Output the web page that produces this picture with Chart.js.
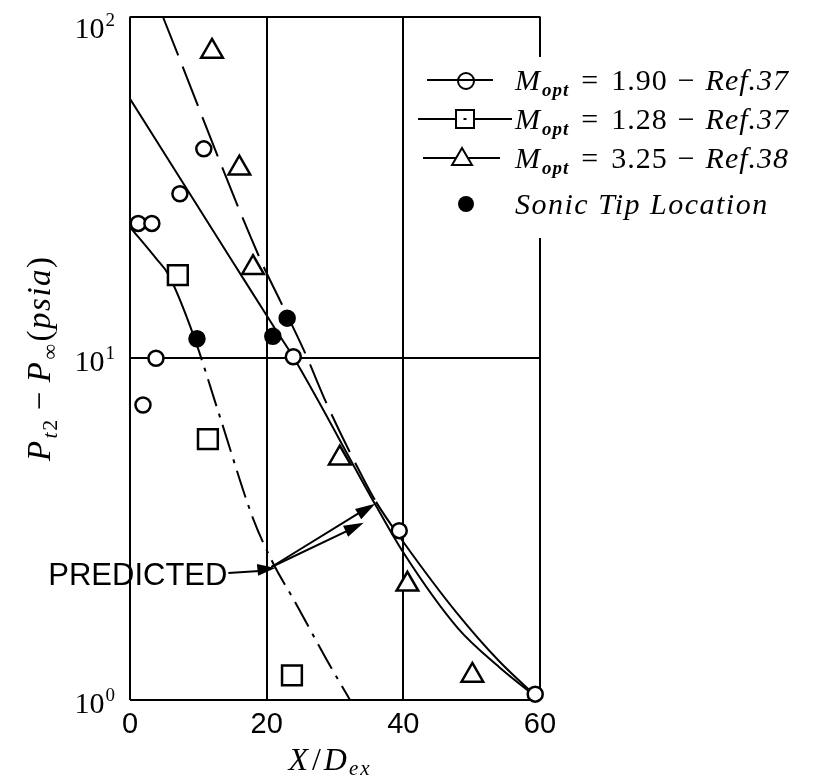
<!DOCTYPE html>
<html>
<head>
<meta charset="utf-8">
<script src="https://cdn.jsdelivr.net/npm/chart.js@4"></script>
<style>
  body { margin: 0; background: #fff; }
  canvas { display: block; }
</style>
</head>
<body>
<canvas id="chart" width="815" height="776"></canvas>
<script>
const xTicks = [0, 20, 40, 60];
const yTicks = [1, 10, 100];

// open circles, M_opt = 1.90 (Ref.37)
const circleX = [1.2, 3.2, 3.8, 1.9, 7.3, 10.8, 23.9, 39.4, 59.3];
const circleY = [24.8, 24.8, 10, 7.3, 30.3, 41, 10.1, 3.13, 1.04];
// squares, M_opt = 1.28 (Ref.37)
const squareX = [7.0, 11.4, 23.7];
const squareY = [17.5, 5.8, 1.18];
// triangles, M_opt = 3.25 (Ref.38)
const triX = [12.0, 16.0, 18.0, 30.7, 40.6, 50.1];
const triY = [79, 36, 18.4, 5.1, 2.18, 1.18];
// sonic tip location
const sonicX = [9.8, 20.9, 23.0];
const sonicY = [11.4, 11.6, 13.1];

// predicted curves
const solidX = [0, 15, 21, 24, 36, 40, 48, 54, 60];
const solidY = [57.4, 19.2, 12.4, 10.0, 3.7, 2.7, 1.62, 1.25, 1.0];
const dashX = [4.8, 19, 22, 25.4, 29, 34, 36, 40, 48, 54, 60];
const dashY = [100, 19.6, 14.7, 10.6, 7.2, 4.5, 3.8, 2.9, 1.78, 1.3, 1.0];
const dashDotX = [0, 3.9, 5.6, 9.2, 13.2, 18, 21, 24, 28.8, 32.2];
const dashDotY = [24.2, 19.5, 17.6, 11.8, 6.7, 3.4, 2.5, 1.96, 1.31, 1.0];

const legendMach = ['1.90', '1.28', '3.25'];
const legendRef = ['Ref.37', 'Ref.37', 'Ref.38'];
const sonicLabel = 'Sonic Tip Location';

const predictedLabel = 'PREDICTED';
const predictedFrom = [20.4, 2.45];
const predictedTo = [[34.2, 3.3], [35.9, 3.75]];

const SERIF = '"Liberation Serif", "Times New Roman", serif';
const SANS = '"Liberation Sans", Arial, sans-serif';

function pts(xs, ys) { return xs.map((x, i) => ({ x: x, y: ys[i] })); }

// parts: [text, font, baseline shift, extra gap after]
function textRuns(ctx, x, y, parts, measureOnly) {
  let cx = x;
  for (const p of parts) {
    ctx.font = p[1];
    if (!measureOnly) ctx.fillText(p[0], cx, y + (p[2] || 0));
    cx += ctx.measureText(p[0]).width + (p[3] || 0);
  }
  return cx - x;
}

function arrowHead(ctx, x0, y0, x1, y1, len, half) {
  const a = Math.atan2(y1 - y0, x1 - x0);
  ctx.beginPath();
  ctx.moveTo(x1, y1);
  ctx.lineTo(x1 - len * Math.cos(a) + half * Math.sin(a), y1 - len * Math.sin(a) - half * Math.cos(a));
  ctx.lineTo(x1 - len * Math.cos(a) - half * Math.sin(a), y1 - len * Math.sin(a) + half * Math.cos(a));
  ctx.closePath();
  ctx.fill();
}

const decorations = {
  id: 'decorations',
  afterDraw(chart) {
    const ctx = chart.ctx;
    const area = chart.chartArea;
    const xs = chart.scales.x, ys = chart.scales.y;
    ctx.save();
    ctx.fillStyle = '#000';
    ctx.strokeStyle = '#000';
    ctx.textBaseline = 'alphabetic';

    // y tick labels 10^n
    yTicks.forEach(v => {
      const exp = String(Math.round(Math.log10(v)));
      const py = ys.getPixelForValue(v);
      const cy = Math.max(py + 3, area.top + 11);
      const parts = [['10', '30px ' + SERIF, 0, 1], [exp, '19px ' + SERIF, -12]];
      const w = textRuns(ctx, 0, 0, parts, true);
      textRuns(ctx, area.left - 15 - w, cy + 10, parts);
    });

    ctx.letterSpacing = '1.5px';
    // y axis title
    const it = 'italic 33px ' + SERIF, up = '33px ' + SERIF;
    const yParts = [
      ['P', it, 0, 1], ['t', 'italic 22px ' + SERIF, 7], ['2', '22px ' + SERIF, 7, 8],
      ['\u2212', up, 0, 8], ['P', it, 0, 1], ['\u221E', '22px ' + SERIF, 7, 1],
      ['(', up, 0], ['psia', it, 0], [')', up, 0]
    ];
    const yw = textRuns(ctx, 0, 0, yParts, true);
    ctx.save();
    ctx.translate(50, (area.top + area.bottom) / 2);
    ctx.rotate(-Math.PI / 2);
    textRuns(ctx, -yw / 2, 0, yParts);
    ctx.restore();

    // x axis title
    ctx.letterSpacing = '2px';
    const xParts = [
      ['X', 'italic 32px ' + SERIF, 0, 2], ['/', '32px ' + SERIF, 0, 1],
      ['D', 'italic 32px ' + SERIF, 0], ['ex', 'italic 21px ' + SERIF, 5]
    ];
    const xw = textRuns(ctx, 0, 0, xParts, true);
    textRuns(ctx, 330 - xw / 2, 770, xParts);

    // legend
    ctx.letterSpacing = '1px';
    ctx.fillStyle = '#fff';
    ctx.fillRect(412, 57, 403, 181);
    ctx.fillStyle = '#000';
    ctx.lineWidth = 2;
    const rowY = [80, 119, 158, 204];
    const lineSpan = [[427, 493, 466], [418, 512, 465], [423, 500, 462]];
    legendMach.forEach((m, i) => {
      const y = rowY[i];
      const [a, b, c] = lineSpan[i];
      ctx.beginPath(); ctx.moveTo(a, y); ctx.lineTo(b, y); ctx.stroke();
      ctx.beginPath();
      if (i === 0) {
        ctx.arc(c, y + 1, 8, 0, Math.PI * 2); ctx.stroke();
      } else if (i === 1) {
        ctx.fillStyle = '#fff'; ctx.fillRect(c - 9, y - 9, 18, 18);
        ctx.strokeRect(c - 9, y - 9, 18, 18);
        ctx.fillStyle = '#000'; ctx.fillRect(c - 1.5, y - 1, 3, 2);
      } else {
        ctx.moveTo(c, y - 10); ctx.lineTo(c + 10, y + 7); ctx.lineTo(c - 10, y + 7); ctx.closePath();
        ctx.fillStyle = '#fff'; ctx.fill(); ctx.stroke(); ctx.fillStyle = '#000';
      }
      textRuns(ctx, 515, y + 10, [
        ['M', 'italic 30px ' + SERIF, 0, 1], ['opt', 'italic bold 19px ' + SERIF, 6, 12],
        ['=', '30px ' + SERIF, 0, 12], [m, '30px ' + SERIF, 0, 10],
        ['\u2212', '30px ' + SERIF, 0, 10], [legendRef[i], 'italic 30px ' + SERIF, 0]
      ]);
    });
    ctx.beginPath(); ctx.arc(466, rowY[3], 8, 0, Math.PI * 2); ctx.fill();
    ctx.letterSpacing = '1.5px';
    textRuns(ctx, 515, rowY[3] + 10, [[sonicLabel, 'italic 30px ' + SERIF, 0]]);
    ctx.letterSpacing = '0px';

    // PREDICTED annotation
    const fx = xs.getPixelForValue(predictedFrom[0]);
    const fy = ys.getPixelForValue(predictedFrom[1]);
    ctx.font = '31px ' + SANS;
    ctx.textAlign = 'right';
    ctx.fillText(predictedLabel, fx - 42, fy + 18);
    ctx.textAlign = 'left';
    ctx.lineWidth = 2;
    ctx.beginPath(); ctx.moveTo(fx - 41, fy + 6); ctx.lineTo(fx - 10, fy + 4); ctx.stroke();
    arrowHead(ctx, fx - 41, fy + 6, fx + 6, fy + 1, 18, 6);
    predictedTo.forEach(t => {
      const tx = xs.getPixelForValue(t[0]);
      const ty = ys.getPixelForValue(t[1]);
      ctx.beginPath(); ctx.moveTo(fx + 2, fy); ctx.lineTo(tx - 8, ty + 4); ctx.stroke();
      arrowHead(ctx, fx, fy, tx, ty, 20, 6);
    });
    ctx.restore();
  }
};

const markerBase = {
  type: 'scatter', showLine: false, borderColor: '#000', backgroundColor: '#fff',
  borderWidth: 2.5, clip: false, order: 0, pointHoverRadius: 0
};
const lineBase = {
  type: 'line', borderColor: '#000', borderWidth: 2, pointRadius: 0, fill: false,
  cubicInterpolationMode: 'monotone', order: 1
};

new Chart(document.getElementById('chart'), {
  type: 'scatter',
  data: {
    datasets: [
      Object.assign({}, markerBase, { data: pts(sonicX, sonicY), pointStyle: 'circle', pointRadius: 7.5, backgroundColor: '#000' }),
      Object.assign({}, markerBase, { data: pts(circleX, circleY), pointStyle: 'circle', pointRadius: 7.5 }),
      Object.assign({}, markerBase, { data: pts(squareX, squareY), pointStyle: 'rect', pointRadius: 14 }),
      Object.assign({}, markerBase, { data: pts(triX, triY), pointStyle: 'triangle', pointRadius: 12.5 }),
      Object.assign({}, lineBase, { data: pts(solidX, solidY) }),
      Object.assign({}, lineBase, {
        data: pts(dashX, dashY),
        segment: { borderDash: c => c.p0.parsed.x >= 35.9 ? [] : [42, 12] }
      }),
      Object.assign({}, lineBase, {
        data: pts(dashDotX, dashDotY),
        segment: { borderDash: c => c.p0.parsed.x < 9 ? [] : [28, 8, 4, 8] }
      })
    ]
  },
  options: {
    responsive: false,
    animation: false,
    layout: { padding: { top: 14, right: 275, left: 0, bottom: 0 } },
    plugins: { legend: { display: false }, tooltip: { enabled: false } },
    scales: {
      x: {
        type: 'linear', min: 0, max: 60,
        afterBuildTicks: s => { s.ticks = xTicks.map(v => ({ value: v })); },
        afterFit: s => { s.height = 76; },
        grid: { color: '#000', lineWidth: 2, drawTicks: false },
        border: { display: false },
        ticks: { color: '#000', padding: 8, font: { family: SANS, size: 29 } }
      },
      y: {
        type: 'logarithmic', min: 1, max: 100,
        afterBuildTicks: s => { s.ticks = yTicks.map(v => ({ value: v })); },
        afterFit: s => { s.width = 130; },
        grid: { color: '#000', lineWidth: 2, drawTicks: false },
        border: { display: false },
        ticks: { display: false }
      }
    }
  },
  plugins: [decorations]
});
</script>
</body>
</html>
